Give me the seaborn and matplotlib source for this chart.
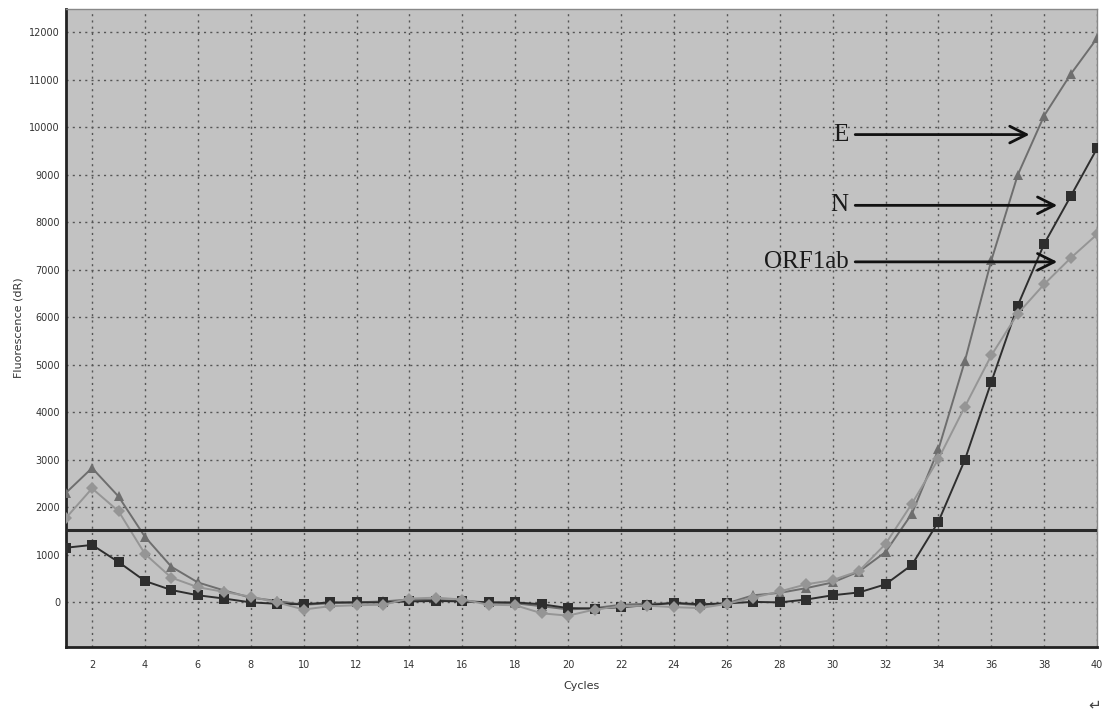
import numpy as np
import pandas as pd
import matplotlib
matplotlib.use("Agg")
import matplotlib.pyplot as plt
import seaborn as sns
from matplotlib.ticker import MultipleLocator

# Amplification curves (cycles 1..40)
cycles = list(range(1, 41))
e_gene = [2300, 2830, 2230, 1380, 750, 420, 250, 100, 30, -50,
          -20, 0, 20, 60, 50, 30, 0, -20, -80, -150,
          -120, -50, -30, -20, -60, -20, 150, 200, 300, 420,
          650, 1060, 1870, 3220, 5080, 7200, 9000, 10250, 11120, 11880]
n_gene = [1150, 1210, 850, 450, 260, 150, 80, 0, -30, -40,
          0, 0, 0, 20, 30, 20, 0, 0, -40, -120,
          -130, -100, -60, -10, -40, -20, 10, 0, 60, 150,
          210, 380, 790, 1700, 3000, 4640, 6250, 7550, 8550, 9560]
orf1ab = [1770, 2400, 1920, 1020, 520, 320, 220, 120, 0, -150,
          -80, -60, -50, 80, 100, 60, -50, -60, -230, -280,
          -150, -80, -70, -100, -120, -30, 100, 230, 380, 470,
          660, 1230, 2080, 3020, 4120, 5200, 6080, 6700, 7250, 7750]
threshold = 1530

genes = ["E", "N", "ORF1ab"]
label_y = [9850, 8360, 7170]

df = pd.DataFrame({
    "Cycles": cycles * 3,
    "Fluorescence": e_gene + n_gene + orf1ab,
    "gene": ["E"] * 40 + ["N"] * 40 + ["ORF1ab"] * 40,
})

sns.set_style("white")
fig = plt.figure(figsize=(11.18, 7.27), dpi=100)
ax = fig.add_axes([0.0587, 0.110, 0.9226, 0.878])
ax.set_facecolor("#c2c2c2")

palette = {"E": "#6e6e6e", "N": "#2e2e2e", "ORF1ab": "#959595"}
markers = {"E": "^", "N": "s", "ORF1ab": "D"}
sns.lineplot(data=df, x="Cycles", y="Fluorescence", hue="gene", style="gene",
             palette=palette, markers=markers, dashes=False, markersize=6.5,
             markeredgewidth=0, linewidth=1.4, legend=False, ax=ax, zorder=3)

ax.axhline(threshold, color="#2a2a2a", linewidth=2.2, zorder=4)

ax.set_xlim(1, 40)
ax.set_ylim(-940, 12500)
ax.xaxis.set_major_locator(MultipleLocator(2))
ax.xaxis.set_minor_locator(MultipleLocator(1))
ax.yaxis.set_major_locator(MultipleLocator(1000))
ax.yaxis.set_minor_locator(MultipleLocator(500))
ax.set_xticks(range(2, 41, 2))
ax.grid(True, which="major", color="#555555", linestyle=(0, (1.5, 3)), linewidth=1.0)

ax.tick_params(axis="both", which="both", direction="inout", color="#222222",
               labelsize=7, labelcolor="#333333")
ax.tick_params(axis="x", which="major", length=4, pad=7)
ax.tick_params(axis="x", which="minor", length=4)
ax.tick_params(axis="y", which="major", length=4, pad=2)
ax.tick_params(axis="y", which="minor", length=4)

for side in ["left", "bottom"]:
    ax.spines[side].set_color("#222222")
    ax.spines[side].set_linewidth(2)
for side in ["top", "right"]:
    ax.spines[side].set_color("#888888")
    ax.spines[side].set_linewidth(1)

ax.set_xlabel("Cycles", fontsize=8, color="#333333", labelpad=8)
ax.set_ylabel("Fluorescence (dR)", fontsize=8, color="#333333")
ax.yaxis.set_label_coords(-0.041, 0.5)

# Gene labels with arrows
arrow_end = [37.55, 38.6, 38.6]
for name, y, x_end in zip(genes, label_y, arrow_end):
    ax.annotate("", xy=(x_end, y), xytext=(30.75, y),
                arrowprops=dict(arrowstyle="->", color="#111111", lw=2,
                                mutation_scale=30), zorder=5)
    ax.text(30.6, y, name, ha="right", va="center", fontsize=18,
            family="Liberation Serif", color="#1a1a1a", zorder=5)

fig.text(0.985, 0.02, "\u21b5", ha="right", va="bottom", fontsize=11, color="#444444")

fig.savefig("out.png", dpi=100)
